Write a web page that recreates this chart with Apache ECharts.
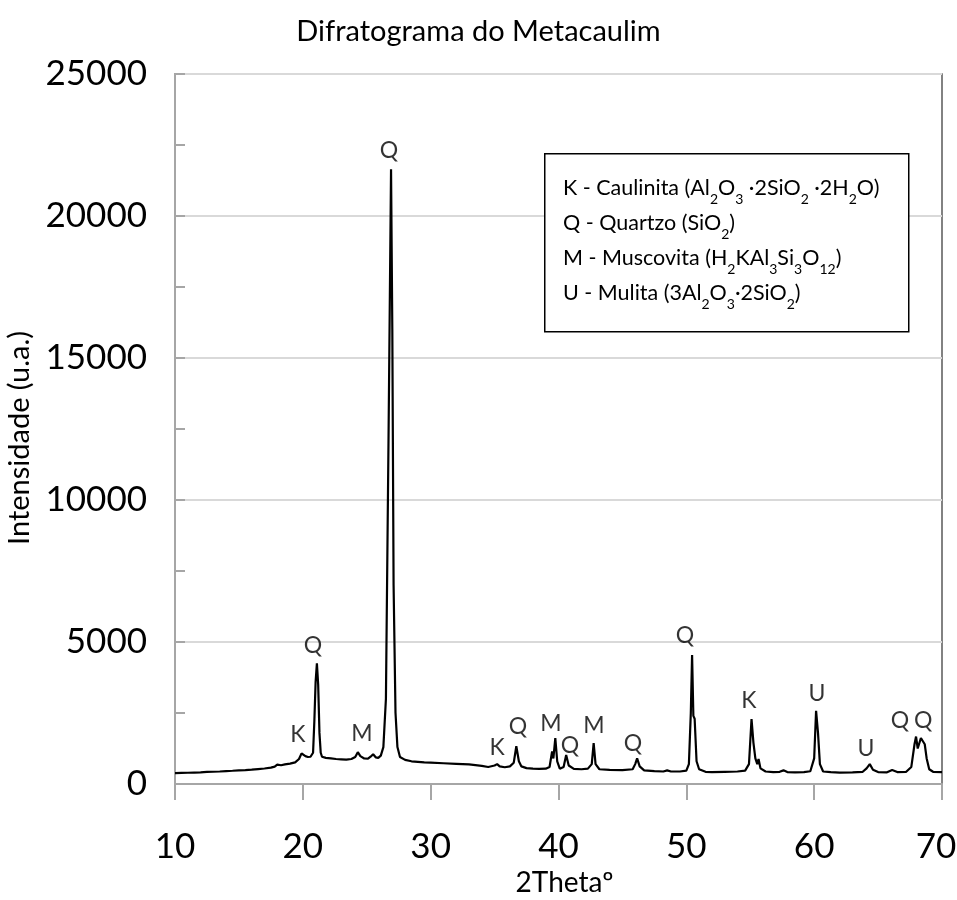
<!DOCTYPE html>
<html><head><meta charset="utf-8">
<script src="https://cdn.jsdelivr.net/npm/echarts@6/dist/echarts.min.js"></script>
<style>html,body{margin:0;padding:0;background:#fff}#c{width:957px;height:900px}</style>
</head><body><div id="c"></div>
<script>
// 2Theta (degrees)
var twoTheta = [10.0,10.5,11.0,11.5,12.0,12.5,13.0,13.5,14.0,14.5,15.0,15.5,16.0,16.5,17.0,17.5,17.8,18.0,18.3,18.6,19.0,19.4,19.7,19.9,20.05,20.2,20.4,20.6,20.8,20.9,21.0,21.1,21.2,21.3,21.4,21.5,21.8,22.2,22.6,23.0,23.4,23.8,24.1,24.3,24.5,24.8,25.1,25.3,25.5,25.7,25.9,26.1,26.3,26.5,26.7,26.9,27.0,27.1,27.25,27.4,27.6,28.0,28.5,29.0,29.5,30.0,31.0,32.0,33.0,34.0,34.5,35.0,35.2,35.4,35.8,36.2,36.5,36.7,36.9,37.1,37.5,38.0,38.5,39.0,39.3,39.5,39.6,39.75,39.9,40.1,40.4,40.6,40.8,41.2,41.8,42.3,42.6,42.75,42.9,43.2,44.0,45.0,45.8,46.0,46.15,46.35,46.7,47.5,48.2,48.5,48.8,49.5,50.0,50.2,50.35,50.45,50.55,50.65,50.8,51.0,51.5,52.0,53.0,54.0,54.6,54.9,55.1,55.25,55.4,55.55,55.65,55.8,56.2,56.8,57.3,57.6,57.9,58.5,59.2,59.7,60.0,60.15,60.3,60.45,60.7,61.3,62.0,63.0,63.8,64.1,64.35,64.6,65.0,65.7,66.1,66.5,67.2,67.6,67.85,67.97,68.1,68.2,68.35,68.5,68.65,68.8,69.0,69.3,70.0];
// Intensity (u.a.)
var intensity = [380,392,396,404,412,424,432,440,455,466,480,492,505,525,545,575,610,680,660,690,720,760,880,1080,1120,980,950,960,1100,2200,3600,4250,3500,1800,1100,960,920,900,880,870,860,880,950,1120,980,900,890,960,1050,940,920,1000,1300,3000,12000,21650,16000,7000,2500,1300,950,850,800,780,760,750,730,710,690,640,600,650,700,620,590,620,750,1330,800,620,560,540,530,540,600,1150,900,1620,800,540,600,1020,650,530,520,540,700,1440,700,520,500,490,520,700,900,620,480,450,440,480,440,440,470,700,2500,4540,2400,2300,800,520,430,420,430,440,470,700,2290,1450,900,700,880,550,440,420,430,480,420,410,420,450,900,2580,1800,700,440,420,400,410,430,550,700,500,420,410,490,420,430,600,1400,1670,1250,1200,1620,1640,1400,900,520,430,420];
// Peak labels
var peakLetters = ['K','Q','M','Q','K','Q','M','Q','M','Q','Q','K','U','U','Q','Q'];
var peakX = [19.62,20.8,24.63,26.74,35.19,36.83,39.41,40.9,42.78,45.83,49.9,54.9,60.22,64.06,66.72,68.52];
var peakY = [1725,4860,1760,22290,1270,2010,2110,1370,2040,1410,5210,2920,3200,1230,2250,2250];
// Axis ticks
var xTicks = [10,20,30,40,50,60,70];
var yTicks = [0,5000,10000,15000,20000,25000];
// Legend lines
var legendLines = [
  'K - Caulinita (Al{s|2}O{s|3} ·2SiO{s|2} ·2H{s|2}O)',
  'Q - Quartzo (SiO{s|2})',
  'M - Muscovita (H{s|2}KAl{s|3}Si{s|3}O{s|12})',
  'U - Mulita (3Al{s|2}O{s|3}·2SiO{s|2})'
];

var FONT = 'Lato';
var lineData = twoTheta.map(function(t,i){return [t,intensity[i]];});
var labelData = peakLetters.map(function(l,i){return [peakX[i],peakY[i],l];});
var xMax = xTicks[xTicks.length-1];

var chart = echarts.init(document.getElementById('c'));
chart.setOption({
  animation:false,
  backgroundColor:'#fff',
  textStyle:{fontFamily:FONT},
  title:{text:'Difratograma do Metacaulim',left:'center',top:12,
    textStyle:{fontFamily:FONT,fontSize:29,fontWeight:'normal',color:'#000'}},
  grid:{left:175,right:15,top:74,bottom:116,show:true,borderColor:'#595959',borderWidth:1.5,
    backgroundColor:'transparent',containLabel:false,outerBoundsMode:'none'},
  xAxis:{type:'value',min:xTicks[0],max:xMax,interval:10,
    name:'2Thetaº',nameLocation:'middle',nameGap:84,
    nameTextStyle:{fontFamily:FONT,fontSize:28,color:'#000',padding:[0,0,0,12]},
    axisLine:{show:true,lineStyle:{color:'#a6a6a6',width:2}},
    axisTick:{show:true,inside:false,length:16,lineStyle:{color:'#a6a6a6',width:2}},
    splitLine:{show:false},
    axisLabel:{fontFamily:FONT,fontSize:35,color:'#000',margin:45,
      formatter:function(v){return v===xMax ? '{r|'+v+'}' : String(v);},
      rich:{r:{fontFamily:FONT,fontSize:35,color:'#000',padding:[0,12,0,0]}}}},
  yAxis:{type:'value',min:yTicks[0],max:yTicks[yTicks.length-1],interval:5000,
    name:'Intensidade (u.a.)',nameLocation:'middle',nameGap:127,
    nameTextStyle:{fontFamily:FONT,fontSize:29,color:'#000',padding:[0,18,0,0]},
    axisLine:{show:true,lineStyle:{color:'#a6a6a6',width:2}},
    axisTick:{show:true,inside:true,length:10,lineStyle:{color:'#a6a6a6',width:2}},
    minorTick:{show:true,splitNumber:2,length:10,lineStyle:{color:'#a6a6a6',width:2}},
    splitLine:{show:true,lineStyle:{color:'#d9d9d9',width:2}},
    axisLabel:{fontFamily:FONT,fontSize:35,color:'#000',margin:28,formatter:function(v){return String(v);}}},
  series:[
    {type:'line',data:lineData,showSymbol:false,symbol:'none',
      lineStyle:{color:'#000',width:2.2},z:3},
    {type:'scatter',data:labelData,symbolSize:1,itemStyle:{color:'rgba(0,0,0,0)'},
      label:{show:true,position:'inside',formatter:function(p){return p.value[2];},
        fontFamily:FONT,fontSize:23,color:'#000'},z:4}
  ],
  graphic:[
    {type:'rect',left:544,top:153,shape:{width:364,height:178},
      style:{fill:'#fff',stroke:'#000',lineWidth:1.5},z:10},
    {type:'text',left:563,top:171,z:11,
      style:{text:legendLines.join('\n'),font:'21.5px '+FONT,fill:'#000',lineHeight:35,
        rich:{s:{fontSize:14,fontFamily:FONT,verticalAlign:'bottom',lineHeight:14,fill:'#000'}}}}
  ]
});
</script></body></html>
